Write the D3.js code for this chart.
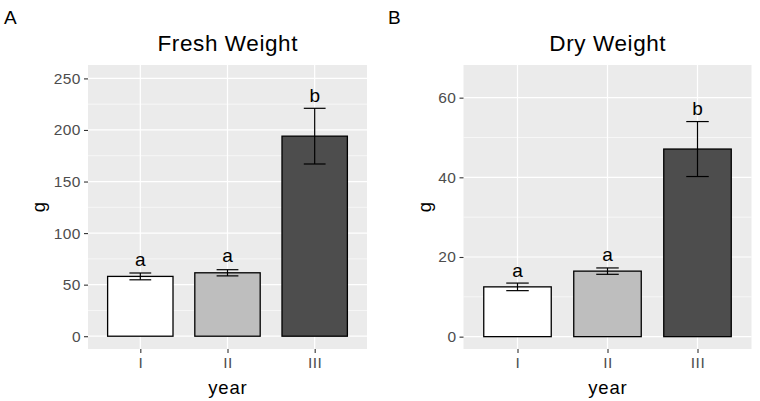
<!DOCTYPE html>
<html>
<head>
<meta charset="utf-8">
<script src="https://cdn.jsdelivr.net/npm/d3@7"></script>
<style>
  html, body { margin: 0; padding: 0; background: #ffffff; }
  svg { display: block; font-family: "Liberation Sans", Arial, sans-serif; }
</style>
</head>
<body>
<svg id="chart" width="760" height="401"></svg>
<script>
// ---- data ----
const categories = ["I", "II", "III"];
const barFills = ["#ffffff", "#bebebe", "#4d4d4d"];

const freshMean = [58, 61.5, 194];
const freshErr  = [3.3, 3, 27];
const freshLetters = ["a", "a", "b"];
const freshLetterY = [68, 71.5, 227.5];
const freshTicks = [0, 50, 100, 150, 200, 250];
const freshMinor = [25, 75, 125, 175, 225];
const freshDomain = [-12.4, 263];

const dryMean = [12.5, 16.45, 47.1];
const dryErr  = [0.95, 0.8, 6.9];
const dryLetters = ["a", "a", "b"];
const dryLetterY = [15.1, 19.0, 55.7];
const dryTicks = [0, 20, 40, 60];
const dryMinor = [10, 30, 50];
const dryDomain = [-3.1, 68.2];

const svg = d3.select("#chart");

function panel(opt) {
  const g = svg.append("g");
  const n = opt.categories.length;
  const unit = (opt.right - opt.left) / (n - 1 + 1.2);
  const cx = d3.scalePoint().domain(opt.categories)
    .range([opt.left + 0.6 * unit, opt.right - 0.6 * unit]);
  const y = d3.scaleLinear().domain(opt.domain).range([opt.bottom, opt.top]);

  // background
  g.append("rect").attr("x", opt.left).attr("y", opt.top)
    .attr("width", opt.right - opt.left).attr("height", opt.bottom - opt.top)
    .attr("fill", "#ebebeb");
  // minor grid
  g.selectAll(".minor").data(opt.minor).enter().append("line")
    .attr("x1", opt.left).attr("x2", opt.right)
    .attr("y1", d => y(d)).attr("y2", d => y(d))
    .attr("stroke", "#ffffff").attr("stroke-width", 0.6);
  // major grid
  g.selectAll(".majy").data(opt.ticks).enter().append("line")
    .attr("x1", opt.left).attr("x2", opt.right)
    .attr("y1", d => y(d)).attr("y2", d => y(d))
    .attr("stroke", "#ffffff").attr("stroke-width", 1.2);
  g.selectAll(".majx").data(opt.categories).enter().append("line")
    .attr("x1", d => cx(d)).attr("x2", d => cx(d))
    .attr("y1", opt.top).attr("y2", opt.bottom)
    .attr("stroke", "#ffffff").attr("stroke-width", 1.2);

  const bw = unit * 0.75;
  const ew = unit * 0.25;
  // bars
  g.selectAll(".bar").data(opt.means).enter().append("rect")
    .attr("x", (d, i) => cx(opt.categories[i]) - bw / 2)
    .attr("y", d => y(d))
    .attr("width", bw)
    .attr("height", d => y(0) - y(d))
    .attr("fill", (d, i) => barFills[i])
    .attr("stroke", "#000000").attr("stroke-width", 1.3);
  // error bars
  opt.means.forEach((m, i) => {
    const c = cx(opt.categories[i]);
    const lo = y(m - opt.errs[i]), hi = y(m + opt.errs[i]);
    const eg = g.append("g").attr("stroke", "#000000").attr("stroke-width", 1.2);
    eg.append("line").attr("x1", c).attr("x2", c).attr("y1", lo).attr("y2", hi);
    eg.append("line").attr("x1", c - ew / 2).attr("x2", c + ew / 2).attr("y1", lo).attr("y2", lo);
    eg.append("line").attr("x1", c - ew / 2).attr("x2", c + ew / 2).attr("y1", hi).attr("y2", hi);
  });
  // letters
  g.selectAll(".let").data(opt.letters).enter().append("text")
    .attr("x", (d, i) => cx(opt.categories[i]))
    .attr("y", (d, i) => y(opt.letterY[i]))
    .attr("text-anchor", "middle")
    .attr("font-size", 19).attr("fill", "#000000")
    .text(d => d);

  // y axis
  const ya = d3.axisLeft(y).tickValues(opt.ticks).tickSize(4).tickPadding(3);
  const yg = g.append("g").attr("transform", `translate(${opt.left},0)`).call(ya);
  yg.select(".domain").remove();
  yg.selectAll(".tick line").attr("stroke", "#333333").attr("stroke-width", 1.1);
  yg.selectAll(".tick text").attr("fill", "#4d4d4d").attr("font-size", 15.5)
    .attr("letter-spacing", 0.5)
    .attr("font-family", "Liberation Sans, Arial, sans-serif");

  // x axis
  const xa = d3.axisBottom(cx).tickSize(4).tickPadding(4);
  const xg = g.append("g").attr("transform", `translate(0,${opt.bottom})`).call(xa);
  xg.select(".domain").remove();
  xg.selectAll(".tick line").attr("stroke", "#333333").attr("stroke-width", 1.1);
  xg.selectAll(".tick text").attr("fill", "#4d4d4d").attr("font-size", 15.5)
    .attr("letter-spacing", 0.5)
    .attr("font-family", "Liberation Sans, Arial, sans-serif");

  // titles
  g.append("text").attr("x", (opt.left + opt.right) / 2 + 0.3).attr("y", 51)
    .attr("text-anchor", "middle").attr("font-size", 22.5).attr("letter-spacing", 0.6)
    .attr("fill", "#000000")
    .text(opt.title);
  g.append("text").attr("x", (opt.left + opt.right) / 2 + 0.4).attr("y", 394)
    .attr("text-anchor", "middle").attr("font-size", 18.5).attr("letter-spacing", 0.8)
    .attr("fill", "#000000")
    .text("year");
  g.append("text")
    .attr("transform", `translate(${opt.ylabX},${(opt.top + opt.bottom) / 2}) rotate(-90)`)
    .attr("text-anchor", "middle").attr("font-size", 18.5).attr("fill", "#000000")
    .text("g");
  g.append("text").attr("x", opt.tagX).attr("y", 24)
    .attr("font-size", 19).attr("fill", "#000000").text(opt.tag);
}

panel({
  categories, means: freshMean, errs: freshErr, letters: freshLetters, letterY: freshLetterY,
  ticks: freshTicks, minor: freshMinor, domain: freshDomain,
  left: 88, right: 367, top: 65, bottom: 349,
  title: "Fresh Weight", tag: "A", tagX: 4, ylabX: 45
});
panel({
  categories, means: dryMean, errs: dryErr, letters: dryLetters, letterY: dryLetterY,
  ticks: dryTicks, minor: dryMinor, domain: dryDomain,
  left: 463.5, right: 751.5, top: 65, bottom: 349,
  title: "Dry Weight", tag: "B", tagX: 388, ylabX: 431
});
</script>
</body>
</html>
